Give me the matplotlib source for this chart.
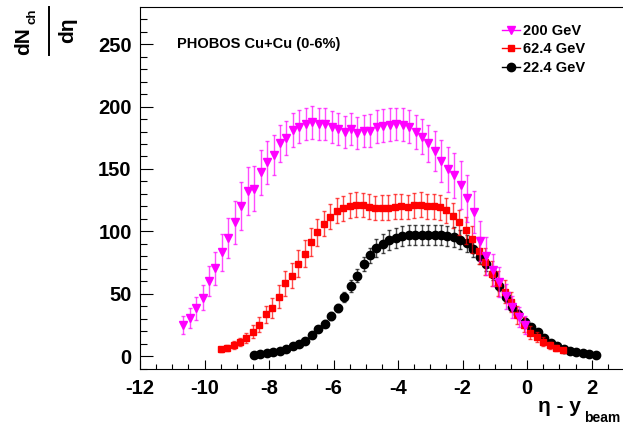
import numpy as np
import matplotlib
matplotlib.use("Agg")
import matplotlib.pyplot as plt
from matplotlib.lines import Line2D
from matplotlib.ticker import MultipleLocator

plt.rcParams['font.family'] = ['Liberation Sans', 'DejaVu Sans']
plt.rcParams['font.weight'] = 'bold'
plt.rcParams['axes.unicode_minus'] = False

# eta bin centres (PHOBOS, 0.2 wide bins)
ETA = np.array([-5.3, -5.1, -4.9, -4.7, -4.5, -4.3, -4.1, -3.9, -3.7, -3.5,
                -3.3, -3.1, -2.9, -2.7, -2.5, -2.3, -2.1, -1.9, -1.7, -1.5,
                -1.3, -1.1, -0.9, -0.7, -0.5, -0.3, -0.1, 0.1, 0.3, 0.5,
                0.7, 0.9, 1.1, 1.3, 1.5, 1.7, 1.9, 2.1, 2.3, 2.5,
                2.7, 2.9, 3.1, 3.3, 3.5, 3.7, 3.9, 4.1, 4.3, 4.5,
                4.7, 4.9, 5.1, 5.3])

YBEAM_200 = 5.36
YBEAM_62 = 4.2
YBEAM_22 = 3.17

dn_200 = [24.9, 30.2, 38.2, 46.8, 60.4, 70.3, 83.2, 94.6, 107.2, 120.3,
          132.3, 134.2, 147.3, 155.3, 161.4, 170.6, 174.8, 181.2, 183.9, 186.0,
          187.4, 186.0, 186.0, 183.4, 182.0, 179.6, 181.8, 178.8, 180.2, 180.7,
          183.9, 184.7, 185.5, 186.0, 185.5, 183.9, 179.6, 175.9, 170.6, 164.4,
          156.6, 149.7, 145.1, 137.1, 126.5, 115.5, 92.5, 80.2, 69.0, 59.6,
          48.1, 39.5, 31.5, 24.9]
err_200 = [7, 8, 9, 10, 12, 13, 15, 16, 17, 19,
           19, 18, 18, 17, 16, 15, 14, 14, 13, 13,
           13, 13, 13, 13, 13, 13, 13, 13, 13, 13,
           13, 13, 13, 13, 13, 13, 14, 14, 15, 16,
           17, 18, 18, 19, 19, 17, 16, 15, 13, 12,
           10, 9, 8, 7]

dn_62 = [5.4, 6.7, 8.8, 11.2, 14.7, 19.5, 24.9, 33.4, 38.7, 47.6,
         58.3, 64.2, 74.0, 82.0, 91.4, 99.2, 106.1, 111.7, 116.5, 118.4,
         120.5, 121.3, 121.1, 119.7, 118.7, 118.9, 118.9, 119.7, 120.0, 119.5,
         120.8, 121.3, 120.0, 120.0, 119.2, 116.8, 112.3, 107.2, 100.8, 93.6,
         84.4, 75.6, 65.8, 58.3, 51.6, 43.5, 32.9, 24.9, 18.7, 15.0,
         11.5, 8.6, 6.7, 4.8]
err_62 = [2, 2.5, 3, 3.5, 4, 5, 6, 7, 8, 9,
          10, 10, 11, 11, 11, 11, 10, 10, 10, 10,
          10, 10, 10, 10, 10, 10, 10, 10, 10, 10,
          10, 10, 10, 10, 10, 10, 10, 10, 11, 11,
          11, 11, 10, 10, 9, 8, 7, 6, 5, 4,
          3.5, 3, 2.5, 2]

dn_22 = [0.8, 1.6, 2.4, 3.2, 4.3, 5.9, 8.0, 9.4, 12.3, 16.6,
         21.4, 25.9, 32.1, 38.5, 47.3, 56.1, 64.4, 73.5, 80.8, 86.5,
         90.1, 93.0, 95.0, 96.0, 97.0, 97.0, 96.8, 96.8, 96.8, 96.8,
         96.2, 95.7, 93.3, 90.4, 85.6, 79.6, 73.8, 65.8, 56.4, 47.6,
         39.5, 33.7, 27.5, 23.5, 19.0, 14.7, 10.7, 8.0, 5.9, 4.3,
         3.2, 2.2, 1.6, 1.0]
err_22 = [1, 1, 1, 1, 1, 1, 1.5, 1.5, 2, 2,
          2.5, 3, 3, 3.5, 4, 4.5, 5, 5.5, 6, 7,
          7.5, 8, 8, 8, 8, 8, 8, 8, 8, 8,
          8, 8, 7.5, 7, 6.5, 6, 5.5, 5, 4.5, 4,
          3.5, 3, 3, 2.5, 2, 2, 1.5, 1.5, 1, 1,
          1, 1, 1, 1]

labels = ['200 GeV', '62.4 GeV', '22.4 GeV']

W, H = 623, 425
fig = plt.figure(figsize=(W / 100, H / 100), dpi=100)
ax = fig.add_axes([140 / W, 56 / H, 483 / W, 361.7 / H])


def px(x, y):
    # pixel position (from top-left) -> figure fraction
    return x / W, 1 - y / H


# draw lowest energy first so 200 GeV sits on top
ax.errorbar(ETA - YBEAM_22, dn_22, yerr=err_22, fmt='o', color='black', ms=6,
            ecolor=(0, 0, 0, 0.7), elinewidth=1, capsize=1.5, capthick=1, zorder=3)
ax.errorbar(ETA - YBEAM_62, dn_62, yerr=err_62, fmt='s', color='#ff0000', ms=4.5,
            ecolor=(1, 0, 0, 0.7), elinewidth=1, capsize=1.5, capthick=1, zorder=4)
ax.errorbar(ETA - YBEAM_200, dn_200, yerr=err_200, fmt='v', color='#ff00ff', ms=6,
            ecolor=(1, 0, 1, 0.7), elinewidth=1, capsize=1.5, capthick=1, zorder=5)

ax.set_xlim(-12, -12 + 483 / 32.26)
ax.set_ylim(-10.4, 279.6)

ax.xaxis.set_major_locator(MultipleLocator(2))
ax.xaxis.set_minor_locator(MultipleLocator(0.5))
ax.yaxis.set_major_locator(MultipleLocator(50))
ax.yaxis.set_minor_locator(MultipleLocator(10))
ax.tick_params(axis='both', which='both', direction='in', width=0.8,
               labelsize=14.5, top=False, right=False)
ax.tick_params(axis='x', which='major', length=6.7, pad=7)
ax.tick_params(axis='x', which='minor', length=3.8)
ax.tick_params(axis='y', which='major', length=9.4, pad=6)
ax.tick_params(axis='y', which='minor', length=5)
for lab in ax.get_xticklabels() + ax.get_yticklabels():
    lab.set_fontweight('bold')
ax.spines['right'].set_visible(False)
for s in ['left', 'bottom', 'top']:
    ax.spines[s].set_linewidth(0.8)

ax.text(*px(177, 44), 'PHOBOS Cu+Cu (0-6%)', transform=fig.transFigure,
        fontsize=10.5, fontweight='bold', ha='left', va='center')

handles = [Line2D([], [], color='#ff00ff', marker='v', ms=6, lw=1),
           Line2D([], [], color='#ff0000', marker='s', ms=4.5, lw=1),
           Line2D([], [], color='black', marker='o', ms=6, lw=1)]
fig.legend(handles, labels, loc='upper left', bbox_to_anchor=px(502, 24),
           frameon=False, handlelength=1.2, handletextpad=0.25,
           labelspacing=0.3, borderpad=0, borderaxespad=0,
           prop={'weight': 'bold', 'size': 10.5})

# y axis title: dN_ch / d(eta) as a rotated fraction
fig.text(*px(24, 41), 'dN', rotation=90, fontsize=15, fontweight='bold',
         ha='center', va='center')
fig.text(*px(32, 16), 'ch', rotation=90, fontsize=9.5, fontweight='bold',
         ha='center', va='center')
fig.text(*px(68, 30), 'dη', rotation=90, fontsize=15, fontweight='bold',
         ha='center', va='center')
fig.add_artist(Line2D([48.5 / W, 48.5 / W], [1 - 7 / H, 1 - 55 / H],
                      color='black', lw=1.4, transform=fig.transFigure))

# x axis title
fig.text(*px(581, 412), 'η - y', fontsize=15, fontweight='bold',
         ha='right', va='baseline')
fig.text(*px(584, 422), 'beam', fontsize=10, fontweight='bold',
         ha='left', va='baseline')

fig.savefig('out.png', dpi=100)
